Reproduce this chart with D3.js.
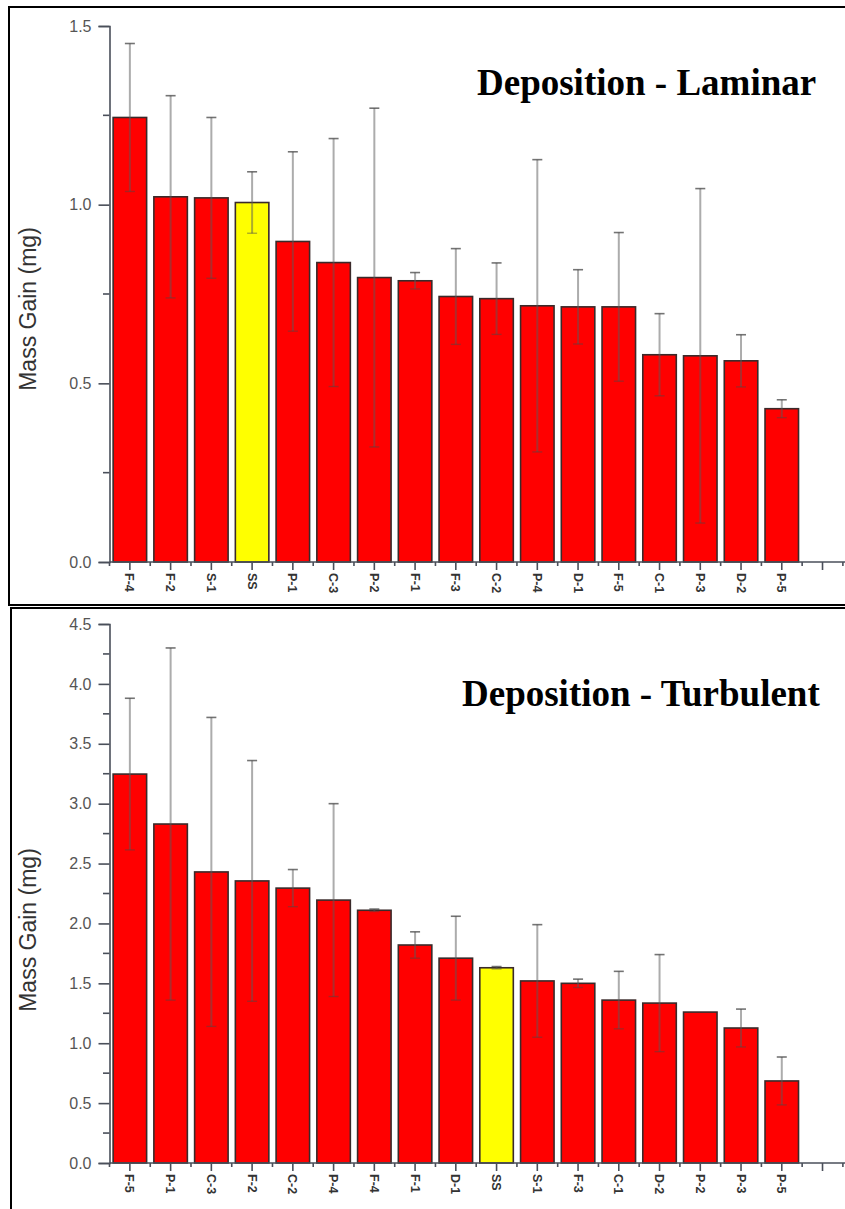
<!DOCTYPE html>
<html><head><meta charset="utf-8">
<script src="https://cdn.jsdelivr.net/npm/d3@7/dist/d3.min.js"></script>
<style>body{margin:0;background:#fff}svg{display:block}</style>
</head><body>
<script>
// ---- data ----
const laminarCats = ["F-4","F-2","S-1","SS","P-1","C-3","P-2","F-1","F-3","C-2","P-4","D-1","F-5","C-1","P-3","D-2","P-5"];
const laminarVals = [1.244,1.022,1.019,1.006,0.897,0.838,0.796,0.787,0.743,0.737,0.717,0.714,0.714,0.580,0.577,0.563,0.429];
const laminarErr  = [0.207,0.283,0.225,0.086,0.251,0.347,0.474,0.023,0.134,0.100,0.409,0.104,0.208,0.115,0.468,0.073,0.025];
const laminarTicks = [0.0,0.5,1.0,1.5];

const turbCats = ["F-5","P-1","C-3","F-2","C-2","P-4","F-4","F-1","D-1","SS","S-1","F-3","C-1","D-2","P-2","P-3","P-5"];
const turbVals = [3.247,2.830,2.430,2.355,2.295,2.195,2.110,1.820,1.710,1.630,1.520,1.500,1.360,1.335,1.260,1.127,0.685];
const turbErr  = [0.633,1.470,1.290,1.005,0.155,0.805,0.010,0.110,0.350,0.010,0.470,0.035,0.240,0.405,0.000,0.158,0.200];
const turbTicks = [0.0,0.5,1.0,1.5,2.0,2.5,3.0,3.5,4.0,4.5];

const svg = d3.select("body").append("svg").attr("width",845).attr("height",1209);

// panel borders
svg.append("path").attr("d","M846,7H9V605H846").attr("fill","none").attr("stroke","#000").attr("stroke-width",2);
svg.append("path").attr("d","M846,608H11V1210").attr("fill","none").attr("stroke","#000").attr("stroke-width",2);

const axisColor = "#4a4f5a";

function panel(cfg){
  const g = svg.append("g");
  const x = d3.scaleLinear().domain([0.5, 18.65]).range([109.5, 849]);
  const y = d3.scaleLinear().domain([0, cfg.max]).range([cfg.y0, cfg.yTop]);
  const bw = 33.5;
  const data = cfg.cats.map((c,i)=>({c, v:cfg.vals[i], e:cfg.errs[i], i:i+1}));

  // bars
  g.selectAll("rect.bar").data(data).enter().append("rect")
    .attr("x", d=>x(d.i)-bw/2).attr("width", bw)
    .attr("y", d=>y(d.v)).attr("height", d=>y(0)-y(d.v))
    .attr("fill", d=>d.c==="SS" ? "#ffff00" : "#ff0000")
    .attr("stroke","#3a2a2a").attr("stroke-width",1.6);

  // error bars
  const eb = g.selectAll("g.eb").data(data.filter(d=>d.e>0)).enter().append("g");
  eb.append("line").attr("x1",d=>x(d.i)).attr("x2",d=>x(d.i))
    .attr("y1",d=>y(d.v-d.e)).attr("y2",d=>y(d.v+d.e))
    .attr("stroke","rgba(90,90,90,0.5)").attr("stroke-width",2);
  eb.append("line").attr("x1",d=>x(d.i)-5).attr("x2",d=>x(d.i)+5)
    .attr("y1",d=>y(d.v+d.e)).attr("y2",d=>y(d.v+d.e))
    .attr("stroke","rgba(70,70,70,0.75)").attr("stroke-width",1.6);
  eb.append("line").attr("x1",d=>x(d.i)-5).attr("x2",d=>x(d.i)+5)
    .attr("y1",d=>y(d.v-d.e)).attr("y2",d=>y(d.v-d.e))
    .attr("stroke","rgba(70,70,70,0.45)").attr("stroke-width",1.4);

  // y axis
  const yAxis = d3.axisLeft(y).tickValues(cfg.ticks).tickFormat(d3.format(".1f")).tickSize(11).tickPadding(7);
  const ya = g.append("g").attr("transform","translate(109.5,0)").call(yAxis);
  ya.select(".domain").attr("stroke",axisColor).attr("stroke-width",1.6);
  ya.selectAll(".tick line").attr("stroke",axisColor).attr("stroke-width",1.6);
  ya.selectAll(".tick text").attr("fill","#555").style("font-family","Liberation Sans, Arial, sans-serif").style("font-size","16px");
  const minor = d3.range(cfg.ticks.length-1).map(k=>(cfg.ticks[k]+cfg.ticks[k+1])/2);
  g.append("g").selectAll("line").data(minor).enter().append("line")
    .attr("x1",103).attr("x2",109.5).attr("y1",d=>y(d)).attr("y2",d=>y(d))
    .attr("stroke",axisColor).attr("stroke-width",1.6);

  // x axis
  const xa = g.append("g").attr("transform",`translate(0,${cfg.y0})`);
  xa.append("line").attr("x1",109.5).attr("x2",846).attr("stroke",axisColor).attr("stroke-width",1.6);
  const majors = d3.range(1,19);
  const minors = d3.range(0.5,19,1);
  xa.selectAll("line.maj").data(majors).enter().append("line")
    .attr("x1",d=>x(d)).attr("x2",d=>x(d)).attr("y1",0).attr("y2",8)
    .attr("stroke",axisColor).attr("stroke-width",1.6);
  xa.selectAll("line.min").data(minors).enter().append("line")
    .attr("x1",d=>x(d)).attr("x2",d=>x(d)).attr("y1",0).attr("y2",4)
    .attr("stroke",axisColor).attr("stroke-width",1.6);
  xa.selectAll("text").data(data).enter().append("text")
    .attr("transform",d=>`translate(${x(d.i)},11) rotate(90)`)
    .attr("dy","0.35em").attr("text-anchor","start")
    .attr("fill","#333").style("font-family","Liberation Sans, Arial, sans-serif").style("font-size","12.5px")
    .style("font-weight","bold")
    .text(d=>d.c);

  // axis title
  g.append("text").attr("transform",`translate(28,${cfg.labelY}) rotate(-90)`)
    .attr("text-anchor","middle").attr("dominant-baseline","central")
    .attr("fill","#333").style("font-family","Liberation Sans, Arial, sans-serif").style("font-size","23px")
    .text("Mass Gain (mg)");

  // title
  g.append("text").attr("x",cfg.titleX).attr("y",cfg.titleY)
    .attr("fill","#000").style("font-family","Liberation Serif, 'Times New Roman', serif")
    .style("font-weight","bold").style("font-size","37px").text(cfg.title);
}

panel({cats:laminarCats, vals:laminarVals, errs:laminarErr, ticks:laminarTicks, max:1.5, y0:562, yTop:26,
       labelY:309, title:"Deposition - Laminar", titleX:477, titleY:95});
panel({cats:turbCats, vals:turbVals, errs:turbErr, ticks:turbTicks, max:4.5, y0:1163, yTop:624,
       labelY:930, title:"Deposition - Turbulent", titleX:462, titleY:706});
</script>
</body></html>
